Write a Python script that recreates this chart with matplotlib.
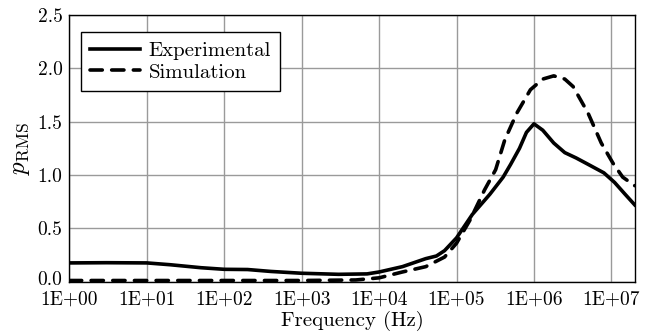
import numpy as np
import matplotlib
matplotlib.use('Agg')
import matplotlib.pyplot as plt
import matplotlib.transforms as mtransforms

plt.rcParams['font.family'] = 'cmr10'
plt.rcParams['mathtext.fontset'] = 'cm'
plt.rcParams['axes.formatter.use_mathtext'] = True

# Experimental RMS pressure vs frequency
exp_freq = [1e0, 3e0, 1e1, 2e1, 5e1, 1e2, 2e2, 4e2, 1e3, 3e3, 7e3, 1e4, 2e4, 4e4,
            5.5e4, 7e4, 1e5, 1.6e5, 2.7e5, 4e5, 5e5, 6.5e5, 8e5, 1e6, 1.3e6, 1.8e6,
            2.5e6, 3.5e6, 5e6, 8e6, 1.1e7, 1.5e7, 2e7]
exp_prms = [0.175, 0.177, 0.175, 0.158, 0.13, 0.115, 0.113, 0.095, 0.078, 0.068, 0.072,
            0.09, 0.14, 0.215, 0.24, 0.29, 0.41, 0.63, 0.82, 0.98, 1.10, 1.25, 1.40,
            1.48, 1.42, 1.30, 1.21, 1.16, 1.10, 1.02, 0.93, 0.82, 0.72]

# Simulated RMS pressure vs frequency
sim_freq = [1e0, 1e3, 5e3, 1e4, 2e4, 4e4, 7e4, 1e5, 1.5e5, 2.3e5, 3.2e5, 4.2e5, 6e5,
            9e5, 1.3e6, 1.8e6, 2.5e6, 3.2e6, 5e6, 7.4e6, 1.05e7, 1.4e7, 2e7]
sim_prms = [0.01, 0.01, 0.015, 0.035, 0.09, 0.14, 0.23, 0.36, 0.58, 0.86, 1.05, 1.33,
            1.58, 1.80, 1.90, 1.93, 1.90, 1.83, 1.58, 1.30, 1.11, 0.98, 0.90]

xticks = [1e0, 1e1, 1e2, 1e3, 1e4, 1e5, 1e6, 1e7]
xtick_labels = ['1E+00', '1E+01', '1E+02', '1E+03', '1E+04', '1E+05', '1E+06', '1E+07']
yticks = [0.0, 0.5, 1.0, 1.5, 2.0, 2.5]

fig = plt.figure(figsize=(6.55, 3.36), dpi=100)
ax = fig.add_axes([0.106, 0.162, 0.863, 0.793])

ax.plot(exp_freq, exp_prms, color='black', lw=2.6, label='Experimental')
ax.plot(sim_freq, sim_prms, color='black', lw=2.6, ls=(0, (3.4, 2.6)),
        dash_capstyle='round', label='Simulation')

ax.set_xscale('log')
ax.set_xlim(1e0, 2e7)
ax.set_ylim(0, 2.5)
ax.set_xticks(xticks)
ax.set_xticklabels(xtick_labels)
ax.xaxis.set_minor_locator(matplotlib.ticker.NullLocator())
ax.set_yticks(yticks)
ax.set_yticklabels(['%.1f' % v for v in yticks])
ax.tick_params(length=0, labelsize=14)
ax.tick_params(axis='x', pad=6.5)
ax.tick_params(axis='y', pad=5)
# nudge the bottom y label up so it clears the first x label
lab0 = ax.get_yticklabels()[0]
lab0.set_transform(lab0.get_transform() +
                   mtransforms.ScaledTranslation(0, 4 / 100, fig.dpi_scale_trans))
ax.grid(True, color='#9a9a9a', lw=1.0)
ax.set_axisbelow(True)
for s in ax.spines.values():
    s.set_linewidth(1.0)

ax.set_xlabel('Frequency (Hz)', fontsize=15, labelpad=2)
ax.set_ylabel(r'$p_{\mathrm{RMS}}$', fontsize=18, labelpad=4)

leg = ax.legend(loc='upper left', bbox_to_anchor=(0.02, 0.937), borderaxespad=0,
                fontsize=15, fancybox=False, framealpha=1, edgecolor='black',
                handlelength=2.4, borderpad=0.45, labelspacing=0.15, handletextpad=0.4)
leg.get_frame().set_linewidth(1.0)

fig.savefig('out.png', dpi=100)
